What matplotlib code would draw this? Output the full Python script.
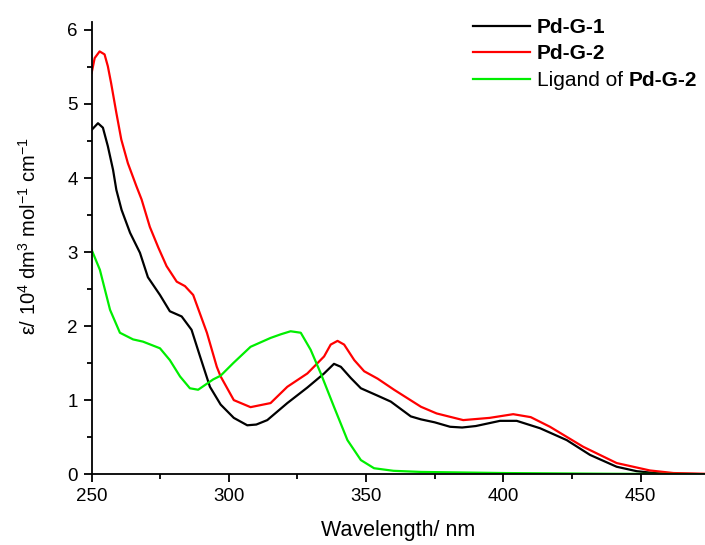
"""UV-Vis spectra of Pd-G-1, Pd-G-2 and the Pd-G-2 ligand."""
import matplotlib
matplotlib.use("Agg")
import matplotlib.pyplot as plt
from matplotlib.ticker import MultipleLocator

plt.rcParams["font.family"] = ["Liberation Sans", "DejaVu Sans"]
plt.rcParams["mathtext.fontset"] = "custom"
plt.rcParams["mathtext.rm"] = "Liberation Sans"
plt.rcParams["mathtext.it"] = "Liberation Sans:italic"

# wavelength, nm / epsilon, 10^4 dm3 mol-1 cm-1
wl_g1 = [250, 252.3, 254.1, 255.9, 257.8, 259, 260.9, 264, 267.6, 270.5,
         274.9, 278.5, 282.8, 286.4, 289.5, 293.1, 297, 301.8, 306.7, 310,
         314, 321.3, 328.6, 334.7, 338.3, 340.8, 344.4, 348.1, 354.2, 359,
         366.3, 370, 375, 380.6, 385, 390, 398.8, 404.9, 413.4, 423.1,
         431.6, 441.3, 448.6, 455, 460, 473.5]
eps_g1 = [4.65, 4.74, 4.68, 4.43, 4.11, 3.84, 3.57, 3.26, 2.99, 2.66,
          2.42, 2.20, 2.13, 1.95, 1.59, 1.18, 0.94, 0.76, 0.66, 0.67,
          0.73, 0.96, 1.17, 1.36, 1.49, 1.45, 1.30, 1.16, 1.06, 0.98,
          0.78, 0.74, 0.70, 0.64, 0.63, 0.65, 0.72, 0.72, 0.62, 0.46,
          0.26, 0.10, 0.04, 0.015, 0.005, 0.0]

wl_g2 = [250, 251.1, 252.9, 254.7, 255.9, 257.1, 259, 260.8, 263.2, 266.3,
         268.2, 271.2, 274.3, 277.3, 281, 284, 287, 292, 295.6, 297,
         301.8, 307.9, 315.2, 321.3, 328.6, 334.7, 337.1, 339.6, 342, 345.7,
         349.3, 354.2, 360.2, 370, 375.7, 385.4, 395, 403.6, 410, 417,
         429.1, 441.3, 453.4, 462, 473.5]
eps_g2 = [5.42, 5.62, 5.71, 5.67, 5.51, 5.28, 4.88, 4.52, 4.20, 3.89,
          3.71, 3.34, 3.06, 2.81, 2.60, 2.54, 2.42, 1.91, 1.45, 1.32,
          1.00, 0.905, 0.96, 1.18, 1.36, 1.59, 1.75, 1.80, 1.75, 1.54,
          1.39, 1.29, 1.14, 0.91, 0.82, 0.73, 0.76, 0.81, 0.77, 0.64,
          0.37, 0.15, 0.05, 0.015, 0.005]

wl_lig = [250, 253, 256.7, 260.3, 265.1, 268.7, 274.9, 278.5, 282.2, 285.8,
          288.8, 294.3, 297, 301.6, 307.9, 315.2, 319, 322.5, 326.2, 329.8,
          333.5, 338.3, 343.2, 348.1, 352.9, 360, 370, 400, 440, 473.5]
eps_lig = [3.03, 2.76, 2.22, 1.91, 1.82, 1.79, 1.70, 1.54, 1.32, 1.16,
           1.14, 1.28, 1.33, 1.50, 1.72, 1.84, 1.89, 1.93, 1.91, 1.68,
           1.36, 0.91, 0.46, 0.19, 0.08, 0.045, 0.03, 0.015, 0.005, 0.0]

fig = plt.figure(figsize=(7.05, 5.45), dpi=100)
ax = fig.add_axes([0.130, 0.130, 0.870, 0.830])

ax.plot(wl_g1, eps_g1, color="#000000", lw=1.6, label="Pd-G-1")
ax.plot(wl_g2, eps_g2, color="#ff0000", lw=1.6, label="Pd-G-2")
ax.plot(wl_lig, eps_lig, color="#00ee00", lw=1.6, label="Ligand of ")

ax.set_xlim(250, 473.5)
ax.set_ylim(0, 6.11)
ax.xaxis.set_major_locator(MultipleLocator(50))
ax.xaxis.set_minor_locator(MultipleLocator(25))
ax.yaxis.set_major_locator(MultipleLocator(1))
ax.yaxis.set_minor_locator(MultipleLocator(0.5))
for side in ("top", "right"):
    ax.spines[side].set_visible(False)
for side in ("left", "bottom"):
    ax.spines[side].set_linewidth(1.3)
ax.tick_params(which="major", direction="out", length=6, width=1.3, labelsize=13.5, pad=4)
ax.tick_params(which="minor", direction="out", length=3.5, width=1.3)

ax.set_xlabel("Wavelength/ nm", fontsize=15.5, labelpad=11)
ax.set_ylabel(r"ε/ 10$^4$ dm$^3$ mol$^{-1}$ cm$^{-1}$", fontsize=14.5)
ax.yaxis.set_label_coords(-0.085, 0.527)

leg = ax.legend(loc="upper left", bbox_to_anchor=(0.591, 1.05), frameon=False,
                fontsize=15, handlelength=2.74, handletextpad=0.34, labelspacing=0.36)
texts = leg.get_texts()
texts[0].set_fontweight("bold")
texts[1].set_fontweight("bold")
# mixed-weight third label: bold compound name drawn after the plain text
# (zorder above the legend so the text position is known when it is drawn)
ax.annotate("Pd-G-2", xy=(1, 0), xycoords=texts[2], va="bottom", ha="left",
            fontsize=15, fontweight="bold", zorder=10)

fig.savefig("out.png", dpi=100)
